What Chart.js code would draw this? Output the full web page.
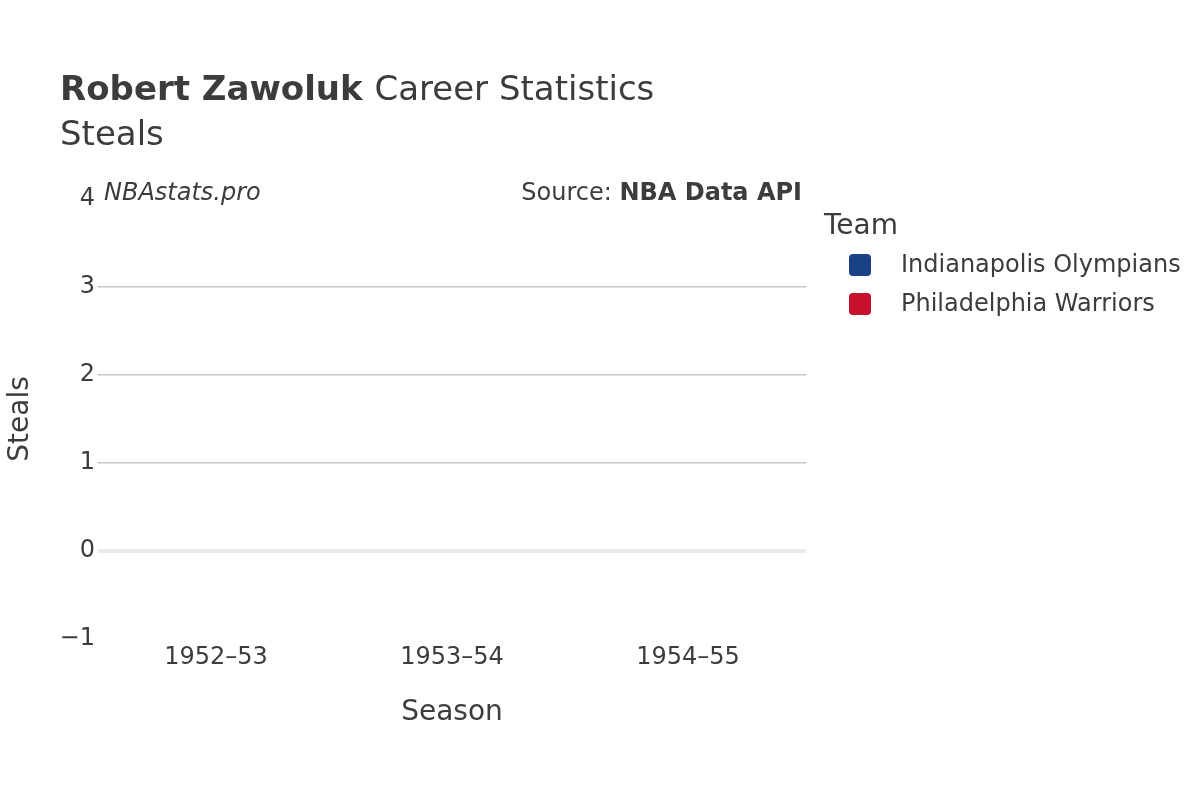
<!DOCTYPE html>
<html>
<head>
<meta charset="utf-8">
<script src="https://cdn.jsdelivr.net/npm/chart.js@4.4.1/dist/chart.umd.min.js"></script>
<style>
  html, body { margin: 0; padding: 0; background: #fff; }
  #wrap { width: 1200px; height: 800px; }
</style>
</head>
<body>
<div id="wrap"><canvas id="chart" width="1200" height="800"></canvas></div>
<script>
const seasons = ['1952–53', '1953–54', '1954–55'];
const teams = ['Indianapolis Olympians', 'Philadelphia Warriors'];
const teamColors = ['#1a4185', '#c8102e'];
// no steals were recorded in these seasons
const indianapolisSteals = [0, 0, null];
const philadelphiaSteals = [null, null, 0];
const yTicks = [-1, 0, 1, 2, 3, 4];

const FONT = '"DejaVu Sans", sans-serif';
const TEXT = '#3c3c3c';

// titles, source notes and the legend are drawn by hand
const decorations = {
  id: 'decorations',
  afterDraw(chart) {
    const c = chart.ctx;
    c.save();
    c.fillStyle = TEXT;
    c.textBaseline = 'alphabetic';
    c.textAlign = 'left';
    c.font = 'bold 34px ' + FONT;
    c.fillText('Robert Zawoluk', 60, 100);
    const w = c.measureText('Robert Zawoluk ').width;
    c.font = '34px ' + FONT;
    c.fillText('Career Statistics', 60 + w, 100);
    c.fillText('Steals', 60, 145);

    c.font = 'italic 24px ' + FONT;
    c.fillText('NBAstats.pro', 104, 200);
    c.textAlign = 'right';
    c.font = 'bold 24px ' + FONT;
    c.fillText('NBA Data API', 802, 200);
    const bw = c.measureText('NBA Data API').width;
    c.font = '24px ' + FONT;
    c.fillText('Source: ', 802 - bw, 200);

    c.textAlign = 'left';
    c.textBaseline = 'middle';
    c.font = '28px ' + FONT;
    c.fillText('Team', 824, 227);
    c.font = '24px ' + FONT;
    chart.data.datasets.forEach((ds, i) => {
      const y = 265 + i * 39;
      c.fillStyle = ds.backgroundColor;
      c.beginPath();
      c.roundRect(849, y - 11, 22, 22, 4);
      c.fill();
      c.fillStyle = TEXT;
      c.fillText(ds.label, 901, y + 1);
    });
    c.restore();
  }
};

new Chart(document.getElementById('chart'), {
  type: 'bar',
  data: {
    labels: seasons,
    datasets: [
      { label: teams[0], data: indianapolisSteals, backgroundColor: teamColors[0], borderWidth: 0 },
      { label: teams[1], data: philadelphiaSteals, backgroundColor: teamColors[1], borderWidth: 0 }
    ]
  },
  options: {
    responsive: false,
    animation: false,
    layout: { padding: { top: 199, right: 394, bottom: 70, left: 0 } },
    plugins: { legend: { display: false }, tooltip: { enabled: false } },
    scales: {
      x: {
        grid: { display: false, drawTicks: false },
        border: { display: false },
        ticks: { color: TEXT, font: { family: FONT, size: 24 }, padding: 4, maxRotation: 0 },
        title: { display: true, text: 'Season', color: TEXT, font: { family: FONT, size: 28 }, padding: 0 },
        afterFit(scale) { scale.height = 91; }
      },
      y: {
        min: -1,
        max: 4,
        afterBuildTicks(scale) { scale.ticks = yTicks.map(v => ({ value: v })); },
        grid: {
          drawTicks: false,
          color: ctx => {
            const v = ctx.tick && ctx.tick.value;
            if (v === 0) return '#ebebeb';
            if (v === -1 || v === 4) return 'rgba(0,0,0,0)';
            return '#c4c4c4';
          },
          lineWidth: ctx => (ctx.tick && ctx.tick.value === 0 ? 4 : 1.5)
        },
        border: { display: false },
        ticks: {
          color: TEXT,
          font: { family: FONT, size: 24 },
          padding: 3,
          callback: v => (v < 0 ? '−' + Math.abs(v) : String(v))
        },
        title: { display: true, text: 'Steals', color: TEXT, font: { family: FONT, size: 28 }, padding: { bottom: 30 } },
        afterFit(scale) { scale.width = 98; }
      }
    }
  },
  plugins: [decorations]
});
</script>
</body>
</html>
